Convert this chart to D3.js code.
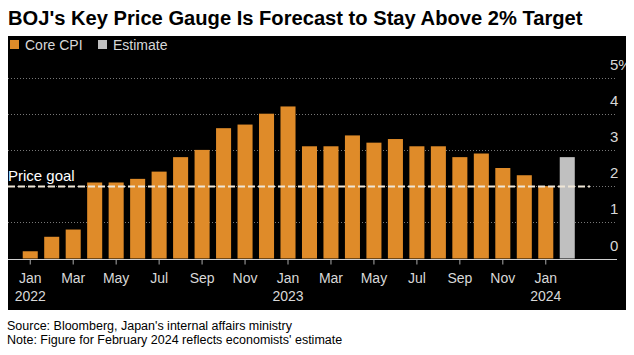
<!DOCTYPE html>
<html><head><meta charset="utf-8">
<script src="https://cdn.jsdelivr.net/npm/d3@7"></script>
<style>
html,body{margin:0;padding:0;background:#fff;}
svg{display:block;font-family:"Liberation Sans",Arial,sans-serif;}
</style></head>
<body><svg id="c" width="634" height="355"></svg>
<script>
const categories = ["Jan 2022","Feb 2022","Mar 2022","Apr 2022","May 2022","Jun 2022","Jul 2022","Aug 2022","Sep 2022","Oct 2022","Nov 2022","Dec 2022",
  "Jan 2023","Feb 2023","Mar 2023","Apr 2023","May 2023","Jun 2023","Jul 2023","Aug 2023","Sep 2023","Oct 2023","Nov 2023","Dec 2023",
  "Jan 2024","Feb 2024"];
const coreCPI = [0.2,0.6,0.8,2.1,2.1,2.2,2.4,2.8,3.0,3.6,3.7,4.0,4.2,3.1,3.1,3.4,3.2,3.3,3.1,3.1,2.8,2.9,2.5,2.3,2.0,null];
const estimate = [null,null,null,null,null,null,null,null,null,null,null,null,null,null,null,null,null,null,null,null,null,null,null,null,null,2.8];
const yTicks = [0,1,2,3,4,5];
const xTicks = ["Jan 2022","Mar 2022","May 2022","Jul 2022","Sep 2022","Nov 2022","Jan 2023","Mar 2023","May 2023","Jul 2023","Sep 2023","Nov 2023","Jan 2024"];
const priceGoal = 2;
const legendItems = ["Core CPI","Estimate"];

const svg = d3.select("#c");
const orange = "#df8b29", gray = "#c0c0c0";

// title
const title = svg.append("text").attr("x",8).attr("y",25).attr("font-size",20.5).attr("font-weight","bold")
  .attr("fill","#000").text("BOJ's Key Price Gauge Is Forecast to Stay Above 2% Target");
const tw = title.node().getComputedTextLength();
if (tw > 575) title.attr("font-size", 20.5*575/tw);

// panel
svg.append("defs").append("clipPath").attr("id","pc").append("rect")
  .attr("x",8).attr("y",36).attr("width",618).attr("height",274);
svg.append("rect").attr("x",8).attr("y",36).attr("width",618).attr("height",274).attr("fill","#000");
const g = svg.append("g").attr("clip-path","url(#pc)");

const x = d3.scaleBand().domain(categories).range([19.5,578]).paddingInner(0.3).paddingOuter(0.15);
const y = d3.scaleLinear().domain([0,5]).range([258.5,77.5]);

// legend
const leg = g.append("g");
const legColors = [orange, gray];
const legX = [10, 98];
legendItems.forEach((t,i)=>{
  leg.append("rect").attr("x",legX[i]).attr("y",40).attr("width",9).attr("height",9).attr("fill",legColors[i]);
  leg.append("text").attr("x",legX[i]+15).attr("y",50).attr("font-size",14).attr("fill","#d8d8d8").text(t);
});

// gridlines
g.selectAll("line.grid").data(yTicks.filter(d=>d>0)).join("line")
  .attr("x1",8).attr("x2",616).attr("y1",d=>Math.round(y(d))+0.5).attr("y2",d=>Math.round(y(d))+0.5)
  .attr("stroke","#777").attr("stroke-width",1).attr("stroke-dasharray","1,2");

// y axis labels (right)
const yAxis = d3.axisRight(y).tickValues(yTicks).tickSize(0).tickFormat(d=> d===5 ? d+"%" : d);
const ya = g.append("g").attr("transform","translate(610,0)").call(yAxis);
ya.select(".domain").remove();
ya.selectAll("text").attr("x",0).attr("dy",-8.5).attr("font-size",15).attr("fill","#d8d8d8")
  .attr("font-family","Liberation Sans, Arial, sans-serif").attr("text-anchor","start");

// bars
g.selectAll("rect.cpi").data(categories.map((c,i)=>({c,v:coreCPI[i]})).filter(d=>d.v!=null)).join("rect")
  .attr("x",d=>x(d.c)).attr("width",x.bandwidth()).attr("y",d=>y(d.v)).attr("height",d=>y(0)-y(d.v)).attr("fill",orange);
g.selectAll("rect.est").data(categories.map((c,i)=>({c,v:estimate[i]})).filter(d=>d.v!=null)).join("rect")
  .attr("x",d=>x(d.c)).attr("width",x.bandwidth()).attr("y",d=>y(d.v)).attr("height",d=>y(0)-y(d.v)).attr("fill",gray);

// price goal
const py = Math.round(y(priceGoal))+0.5;
g.append("line").attr("x1",8).attr("x2",590).attr("y1",py).attr("y2",py)
  .attr("stroke","#efe6d6").attr("stroke-width",2).attr("stroke-dasharray","7,3");
g.append("text").attr("x",8).attr("y",py-6).attr("font-size",15).attr("fill","#fff").text("Price goal");

// x axis
const xAxis = d3.axisBottom(x).tickValues(xTicks).tickSize(5).tickSizeOuter(0).tickFormat("");
const xa = g.append("g").attr("transform",`translate(0,${Math.round(y(0))+0.5})`).call(xAxis);
xa.select(".domain").remove();
xa.selectAll(".tick line").attr("stroke","#aaa");
g.append("line").attr("x1",8).attr("x2",617).attr("y1",Math.round(y(0))+0.5).attr("y2",Math.round(y(0))+0.5)
  .attr("stroke","#d0d0d0").attr("stroke-width",1);
xTicks.forEach(t=>{
  const [m,yr] = t.split(" ");
  const cx = x(t)+x.bandwidth()/2;
  g.append("text").attr("x",cx).attr("y",283).attr("text-anchor","middle").attr("font-size",14).attr("fill","#d8d8d8").text(m);
  if(m==="Jan") g.append("text").attr("x",cx).attr("y",301).attr("text-anchor","middle").attr("font-size",14).attr("fill","#d8d8d8").text(yr);
});

// footer
svg.append("text").attr("x",7).attr("y",330).attr("font-size",12.5).attr("fill","#000")
  .text("Source: Bloomberg, Japan's internal affairs ministry");
svg.append("text").attr("x",7).attr("y",344).attr("font-size",12.5).attr("fill","#000")
  .text("Note: Figure for February 2024 reflects economists' estimate");
</script></body></html>
